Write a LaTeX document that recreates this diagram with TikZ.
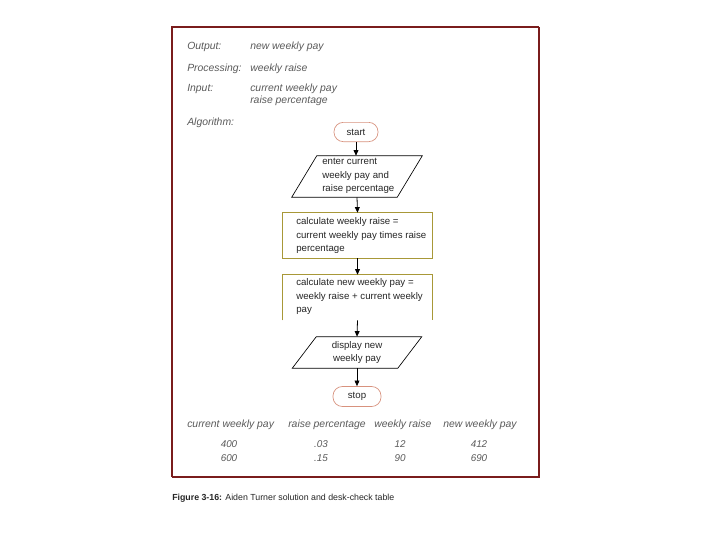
\documentclass[tikz,border=0pt]{standalone}
\usepackage{fontspec}
\setmainfont{Liberation Sans}
\usetikzlibrary{arrows.meta}
\definecolor{frame}{HTML}{7A1C1C}
\definecolor{hand}{HTML}{5A5A5A}
\definecolor{termb}{HTML}{D8927E}
\definecolor{boxb}{HTML}{A89838}
\begin{document}
\begin{tikzpicture}[x=0.75pt,y=-0.75pt,
  hw/.style={font=\fontsize{7.8}{9}\selectfont\itshape, text=hand, anchor=west, inner sep=0},
  val/.style={font=\fontsize{7.4}{9}\selectfont\itshape, text=hand, inner sep=0},
  fc/.style={font=\fontsize{7.25}{10}\selectfont, text=black!85},
  fctext/.style={fc, anchor=west, align=left, inner sep=0},
  term/.style={fc, draw=termb, line width=0.5pt, rounded corners=7pt, minimum height=14.5pt, inner sep=0},
  procbox/.style={draw=none, minimum width=111.75pt, minimum height=33.75pt, inner sep=0},
  ioshape/.style={draw=none, minimum width=78.75pt, inner sep=0},
  flow/.style={-{Triangle[length=4.2pt,width=3.6pt]}, line width=0.6pt, black}]
\useasboundingbox (0,0) rectangle (720,540);
\fill[white] (0,0) rectangle (720,540);
% frame
\draw[frame, line width=0.9pt] (172,477) -- (172,27) -- (539,27);
\draw[frame, line width=2.2pt] (172,477) -- (539,477) -- (539,27);
% spec labels
\node[hw] (lo) at (187,47) {Output:};
\node[hw] (vo) at (250,47) {new weekly pay};
\node[hw] (lp) at (187,69) {Processing:};
\node[hw] (vp) at (250,69) {weekly raise};
\node[hw] (li) at (187,89) {Input:};
\node[hw] (vi1) at (250,89) {current weekly pay};
\node[hw] (vi2) at (250,101) {raise percentage};
\node[hw] (la) at (187,123) {Algorithm:};
% flowchart
\node[term, minimum width=33pt] (start) at (356,132) {start};
\node[ioshape, minimum height=30.75pt] (in) at (357,176.5) {};
\draw[line width=0.5pt] ([xshift=9.4pt]in.north west) -- ([xshift=9.4pt]in.north east) -- ([xshift=-9.4pt]in.south east) -- ([xshift=-9.4pt]in.south west) -- cycle;
\node[fctext] (intext) at (322,176) {enter current\\weekly pay and\\raise percentage};
\node[procbox] (c1) at (357.5,235.5) {};
\draw[boxb, line width=0.6pt] (c1.north west) rectangle (c1.south east);
\node[fctext] (c1text) at (296,235.5) {calculate weekly raise =\\current weekly pay times raise\\percentage};
\node[procbox] (c2) at (357.5,297.5) {};
\draw[boxb, line width=0.6pt] (c2.south west) -- (c2.north west) -- (c2.north east) -- (c2.south east);
\node[fctext] (c2text) at (296,296.5) {calculate new weekly pay =\\weekly raise + current weekly\\pay};
\node[ioshape, minimum height=23.25pt] (out) at (357,352.5) {};
\draw[line width=0.5pt] ([xshift=9pt]out.north west) -- ([xshift=9pt]out.north east) -- ([xshift=-9pt]out.south east) -- ([xshift=-9pt]out.south west) -- cycle;
\node[fc, align=center, inner sep=0] (outtext) at (out.center) {display new\\weekly pay};
\node[term, minimum width=36pt, minimum height=15pt] (stop) at (357,396.5) {stop};
\draw[flow] (start.south) -- (start.south |- in.north);
\draw[flow] (in.south) -- (c1.north);
\draw[flow] (c1.south) -- (c2.north);
\draw[flow] (c2.south) -- (out.north);
\draw[flow] (out.south) -- (stop.north);
% desk-check table
\node[hw] (h1) at (187,425) {current weekly pay};
\node[hw] (h2) at (288,425) {raise percentage};
\node[hw] (h3) at (374,425) {weekly raise};
\node[hw] (h4) at (443,425) {new weekly pay};
\node[val] (a1) at (229,444) {400};
\node[val] (a2) at (321,444) {.03};
\node[val] (a3) at (400,444) {12};
\node[val] (a4) at (479,444) {412};
\node[val] (b1) at (229,458) {600};
\node[val] (b2) at (321,458) {.15};
\node[val] (b3) at (400,458) {90};
\node[val] (b4) at (479,458) {690};
% caption
\node[anchor=west, inner sep=0, font=\fontsize{6.6}{8}\selectfont, text=black!85] (cap) at (172,498) {\textbf{Figure 3-16:} Aiden Turner solution and desk-check table};
\end{tikzpicture}
\end{document}
